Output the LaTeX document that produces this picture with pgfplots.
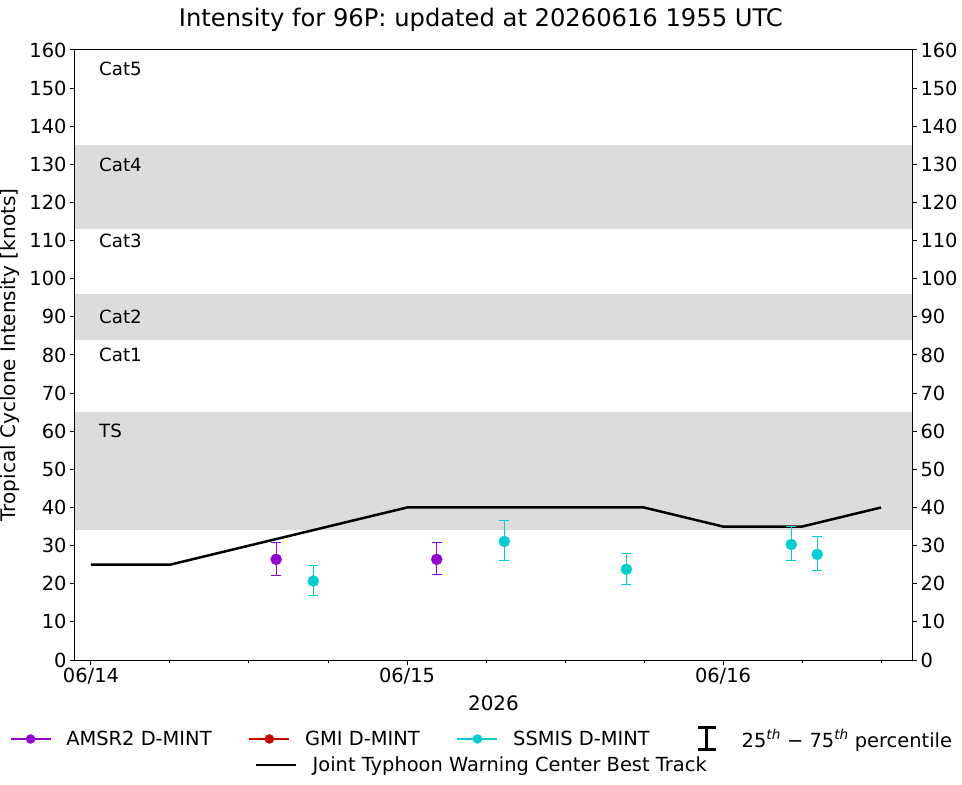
\documentclass[border=0pt]{standalone}
\usepackage{pgfplots}
\pgfplotsset{compat=1.18}
\usepackage{pgfplotstable}
\usepackage{fontspec}
\setmainfont{DejaVu Sans}
\definecolor{amsr}{HTML}{9400D3}
\definecolor{gmi}{HTML}{CC0000}
\definecolor{ssmis}{HTML}{00CED1}
\definecolor{band}{HTML}{DCDCDC}

\pgfplotstableread{
x y ep em
0.586 26.4 4.5 4.2
1.094 26.4 4.5 3.9
}\amsrdata
\pgfplotstableread{
x y ep em
0.7035 20.7 4.1 3.7
1.308 31.1 5.5 5.0
1.694 23.8 4.2 3.9
2.216 30.3 4.8 4.3
2.298 27.7 4.7 4.1
}\ssmisdata
\pgfplotstableread{
x y
0.00 25
0.25 25
1.00 40
1.75 40
2.00 35
2.25 35
2.50 40
}\bttable

\begin{document}
\begin{tikzpicture}[x=1bp,y=1bp]
\path[use as bounding box] (-75bp,-125bp) rectangle (887bp,660bp);
\pgfplotsset{every axis/.append style={
  scale only axis, width=837bp, height=610bp,
  at={(0,0)}, anchor=south west,
  xmin=-0.0506, xmax=2.598, ymin=0, ymax=160,
  font=\fontsize{19.5}{23}\selectfont,
  /pgf/number format/assume math mode=true,
  tick align=outside,
  major tick length=5bp, minor tick length=2.8bp,
  axis line style={line width=1bp},
  every tick/.style={black, line width=1bp},
  ytick={0,10,...,160},
}}
\begin{axis}[
  xtick={0,1,2}, xticklabels={06/14,06/15,06/16},
  minor xtick={0.25,0.5,0.75,1.25,1.5,1.75,2.25,2.5},
  xtick pos=lower, ytick pos=both, yticklabel pos=left,
  xlabel={2026},
  xlabel style={at={(axis description cs:0.5,-0.0705)}, anchor=center, font=\fontsize{20}{24}\selectfont},
  ylabel={Tropical Cyclone Intensity [knots]},
  ylabel style={at={(axis description cs:-0.0777,0.5)}, anchor=center, font=\fontsize{20.1}{24}\selectfont},
  title={Intensity for 96P: updated at 20260616 1955 UTC},
  title style={at={(axis description cs:0.485,1.0295)}, anchor=base, font=\fontsize{24.3}{28}\selectfont},
  axis on top,
  legend columns=4,
  legend style={at={(axis description cs:0.485,-0.1295)}, anchor=center, draw=none, fill=none,
    font=\fontsize{19.5}{23}\selectfont,
    /tikz/every odd column/.append style={column sep=15bp},
    /tikz/every even column/.append style={column sep=37bp},
    nodes={inner sep=0pt}},
]
\addplot[fill=band, draw=none, forget plot] coordinates {(-0.0506,34) (2.598,34) (2.598,65) (-0.0506,65)} -- cycle;
\addplot[fill=band, draw=none, forget plot] coordinates {(-0.0506,84) (2.598,84) (2.598,96) (-0.0506,96)} -- cycle;
\addplot[fill=band, draw=none, forget plot] coordinates {(-0.0506,113) (2.598,113) (2.598,135) (-0.0506,135)} -- cycle;

\addplot[black, line width=2.5bp, forget plot] table[x=x,y=y] {\bttable};

\addplot[only marks, mark=*, mark size=5.5bp, color=amsr, forget plot,
  error bars/.cd, y dir=both, y explicit,
  error bar style={line width=1bp, color=amsr},
  error mark options={rotate=90, mark size=5bp, line width=1bp, color=amsr}]
  table[x=x, y=y, y error plus=ep, y error minus=em] {\amsrdata};
\addplot[only marks, mark=*, mark size=5.5bp, color=ssmis, forget plot,
  error bars/.cd, y dir=both, y explicit,
  error bar style={line width=1bp, color=ssmis},
  error mark options={rotate=90, mark size=5bp, line width=1bp, color=ssmis}]
  table[x=x, y=y, y error plus=ep, y error minus=em] {\ssmisdata};

\node[anchor=west, inner sep=0pt, font=\fontsize{18.3}{21}\selectfont] at (axis cs:0.0253,155) {Cat5};
\node[anchor=west, inner sep=0pt, font=\fontsize{18.3}{21}\selectfont] at (axis cs:0.0253,130) {Cat4};
\node[anchor=west, inner sep=0pt, font=\fontsize{18.3}{21}\selectfont] at (axis cs:0.0253,110) {Cat3};
\node[anchor=west, inner sep=0pt, font=\fontsize{18.3}{21}\selectfont] at (axis cs:0.0253,90) {Cat2};
\node[anchor=west, inner sep=0pt, font=\fontsize{18.3}{21}\selectfont] at (axis cs:0.0253,80) {Cat1};
\node[anchor=west, inner sep=0pt, font=\fontsize{18.3}{21}\selectfont] at (axis cs:0.0253,60) {TS};

\addlegendimage{legend image code/.code={\draw[amsr, line width=1.5bp] (0bp,0bp) -- (40bp,0bp); \fill[amsr] (20bp,0bp) circle (4.5bp);}}
\addlegendentry{AMSR2 D-MINT}
\addlegendimage{legend image code/.code={\draw[gmi, line width=1.5bp] (0bp,0bp) -- (40bp,0bp); \fill[gmi] (20bp,0bp) circle (4.5bp);}}
\addlegendentry{GMI D-MINT}
\addlegendimage{legend image code/.code={\draw[ssmis, line width=1.5bp] (0bp,0bp) -- (40bp,0bp); \fill[ssmis] (20bp,0bp) circle (4.5bp);}}
\addlegendentry{SSMIS D-MINT}
\addlegendimage{legend image code/.code={\path[draw=none, fill=none] (0bp,-1bp) rectangle (40bp,1bp); \draw[black, line width=3bp] (20bp,-11bp) -- (20bp,11bp); \draw[black, line width=3bp] (11bp,-11bp) -- (29bp,-11bp); \draw[black, line width=3bp] (11bp,11bp) -- (29bp,11bp);}}
\addlegendentry{25\textsuperscript{\itshape th} − 75\textsuperscript{\itshape th} percentile}
\end{axis}
\begin{axis}[
  axis x line=none, axis y line*=right,
  ytick pos=right, yticklabel pos=right,
  legend style={at={(axis description cs:0.485,-0.172)}, anchor=center, draw=none, fill=none,
    font=\fontsize{19.5}{23}\selectfont,
    /tikz/every odd column/.append style={column sep=15bp},
    nodes={inner sep=0pt}},
]
\addlegendimage{legend image code/.code={\draw[black, line width=2.5bp] (0bp,0bp) -- (40bp,0bp);}}
\addlegendentry{Joint Typhoon Warning Center Best Track}
\end{axis}
\end{tikzpicture}
\end{document}
